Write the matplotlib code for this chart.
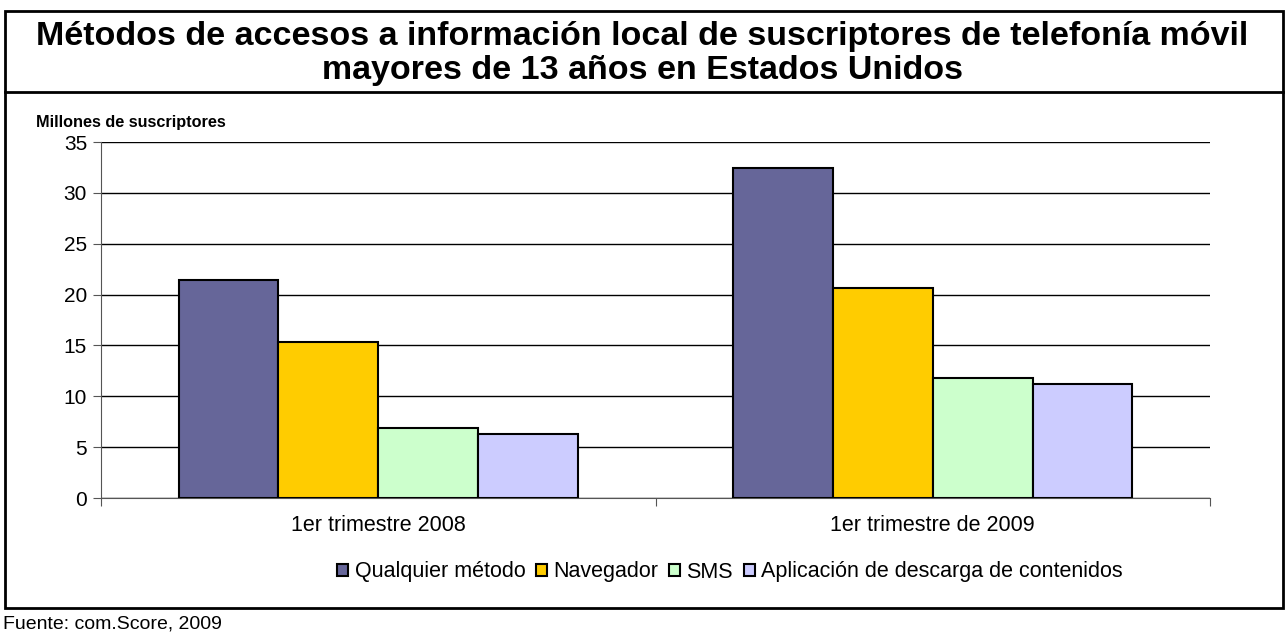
import numpy as np
import matplotlib.pyplot as plt
from matplotlib.patches import Rectangle
from matplotlib.lines import Line2D

plt.rcParams['font.family'] = ['Liberation Sans', 'DejaVu Sans']

categories = ['1er trimestre 2008', '1er trimestre de 2009']
series = ['Qualquier método', 'Navegador', 'SMS', 'Aplicación de descarga de contenidos']
values = [
    [21.4, 32.4],   # Qualquier método
    [15.3, 20.6],   # Navegador
    [6.9, 11.8],    # SMS
    [6.3, 11.2],    # Aplicación
]
colors = ['#666699', '#FFCC00', '#CCFFCC', '#CCCCFF']
title_lines = ['Métodos de accesos a información local de suscriptores de telefonía móvil',
               'mayores de 13 años en Estados Unidos']

W, H = 1285, 641
fig = plt.figure(figsize=(W / 100, H / 100), dpi=100)


# pixel coords -> figure fraction
def fx(px):
    return px / W


def fy(py):
    return 1 - py / H


box = Rectangle((fx(5), fy(608)), fx(1283) - fx(5), fy(11) - fy(608),
                transform=fig.transFigure, fill=False, lw=2, ec='black')
fig.patches.append(box)
fig.lines.append(Line2D([fx(5), fx(1283)], [fy(92), fy(92)],
                        transform=fig.transFigure, color='black', lw=2))

fig.text(0.5, fy(45), title_lines[0], ha='center', va='baseline',
         fontsize=24.5, fontweight='bold')
fig.text(0.5, fy(79), title_lines[1], ha='center', va='baseline',
         fontsize=24.5, fontweight='bold')
fig.text(fx(36), fy(122), 'Millones de suscriptores', ha='left', va='center',
         fontsize=11.7, fontweight='bold')
fig.text(fx(3), fy(624), 'Fuente: com.Score, 2009', ha='left', va='center', fontsize=14)

ax = fig.add_axes([fx(101), fy(498), fx(1210) - fx(101), fy(142) - fy(498)])

x = np.arange(len(categories))
bw = 0.18
for i, (s, v, c) in enumerate(zip(series, values, colors)):
    ax.bar(x + (i - 1.5) * bw, v, bw, color=c, edgecolor='black', lw=1.5,
           label=s, zorder=3)

ax.set_xlim(-0.5, 1.5)
ax.set_ylim(0, 35)
ax.set_yticks(np.arange(0, 36, 5))
ax.yaxis.grid(True, color='black', lw=1, zorder=0)
ax.set_axisbelow(True)
ax.set_xticks([-0.5, 0.5, 1.5])
ax.set_xticklabels([])
ax.set_xticks(x, minor=True)
ax.set_xticklabels(categories, minor=True, fontsize=15.5)
ax.tick_params(axis='x', which='minor', length=0, pad=12)
ax.tick_params(axis='x', which='major', length=6, color='#555555', direction='out')
ax.tick_params(axis='y', labelsize=15, length=6, color='#555555', pad=4)
for side in ['top', 'right']:
    ax.spines[side].set_visible(False)
ax.spines['left'].set_color('#555555')
ax.spines['bottom'].set_color('#555555')

fig.legend(loc='center', bbox_to_anchor=(fx(730), fy(572)), ncol=4,
           frameon=False, fontsize=15.5, handlelength=0.5, handleheight=0.5,
           handletextpad=0.3, columnspacing=0.5)

plt.savefig('out.png', dpi=100)
